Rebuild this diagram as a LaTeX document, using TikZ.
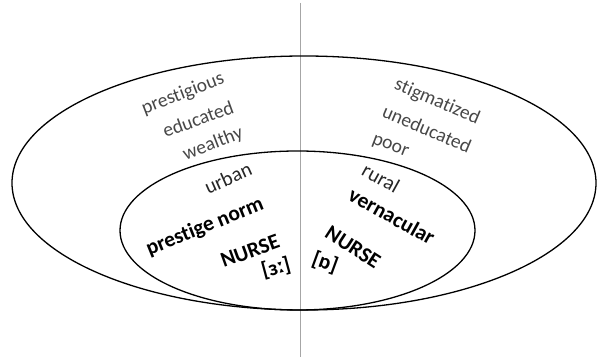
\documentclass[tikz,border=0pt]{standalone}
\usepackage{fontspec}
\setmainfont{Carlito}[RawFeature=-liga]
\begin{document}
\begin{tikzpicture}[x=1pt,y=-1pt,
  ring/.style={draw=black,line width=1.3pt},
  divider/.style={draw=black!35,line width=0.9pt},
  attr/.style={text=black!72,font=\fontsize{19.5}{21}\selectfont,inner sep=0pt},
  place/.style={text=black!85,font=\fontsize{20.5}{22}\selectfont,inner sep=0pt},
  norm/.style={text=black,font=\fontsize{21.5}{23}\selectfont\bfseries,inner sep=0pt}]
\useasboundingbox (0,0) rectangle (598,358);
\fill[white] (0,0) rectangle (598,358);
\coordinate (vtop) at (300,3);
\coordinate (vbot) at (300,357);
\draw[divider] (vtop) -- (vbot);
\draw[ring] (304,183) ellipse [x radius=292, y radius=127];
\draw[ring] (297.5,230.5) ellipse [x radius=177.5, y radius=79.5];
% left side
\node[attr,rotate=21] (l1) at (183,94) {prestigious};
\node[attr,rotate=20] (l2) at (198,119) {educated};
\node[attr,rotate=21] (l3) at (213,144) {wealthy};
\node[place,rotate=24] (l4) at (228,178) {urban};
\node[norm,rotate=22] (l5) at (205,227) {prestige norm};
\node[norm,rotate=20] (l6) at (250,251) {NURSE};
\node[norm,rotate=15] (l7) at (276,268) {[ɜː]};
% right side
\node[attr,rotate=-23] (r1) at (437,102) {stigmatized};
\node[attr,rotate=-23] (r2) at (427,129) {uneducated};
\node[attr,rotate=-21] (r3) at (390,147) {poor};
\node[place,rotate=-29] (r4) at (381,178) {rural};
\node[norm,rotate=-29] (r5) at (392,216) {vernacular};
\node[norm,rotate=-33] (r6) at (353,247) {NURSE};
\node[norm,rotate=-20] (r7) at (325,263) {[ɒ]};
\end{tikzpicture}
\end{document}
